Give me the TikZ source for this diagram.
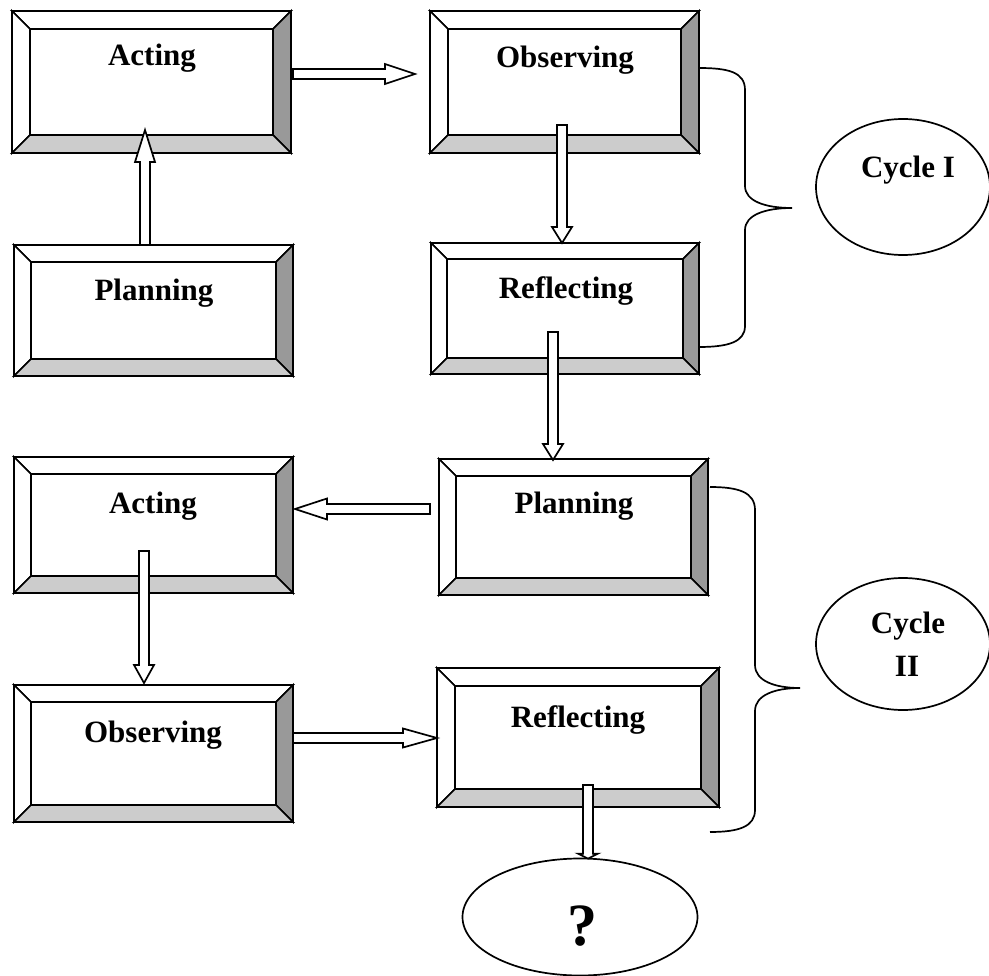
\documentclass[tikz,border=0pt]{standalone}
\usepackage{fontspec}
\setmainfont{Liberation Serif}
\usetikzlibrary{calc,shapes.geometric}
\definecolor{darkface}{HTML}{999999}
\definecolor{lightface}{HTML}{CCCCCC}
\tikzset{
  boxcore/.style={rectangle, inner sep=0pt, outer sep=0pt},
  face/.style={draw=black, line width=1.7pt, line join=miter},
  lbl/.style={font=\fontsize{31}{31}\selectfont\bfseries, anchor=base, inner sep=0pt},
  qlbl/.style={font=\fontsize{60}{60}\selectfont\bfseries, anchor=base, inner sep=0pt},
  barrow/.style={draw=black, fill=white, line width=1.7pt, line join=miter},
  bracepath/.style={draw=black, line width=1.7pt},
  oval/.style={ellipse, draw=black, line width=1.7pt, inner sep=0pt},
}
\newcommand\bevbox[6]{%
  \node[boxcore, minimum width={#4-#2}, minimum height={#5-#3}] (#1) at ({(#2+#4)/2},{(#3+#5)/2}) {};
  \coordinate (#1-a) at ($(#1.north west)+(#6,#6)$);
  \coordinate (#1-b) at ($(#1.north east)+(-#6,#6)$);
  \coordinate (#1-c) at ($(#1.south east)+(-#6,-#6)$);
  \coordinate (#1-d) at ($(#1.south west)+(#6,-#6)$);
  \filldraw[face, fill=white] (#1.north west) -- (#1.north east) -- (#1-b) -- (#1-a) -- cycle;
  \filldraw[face, fill=white] (#1.north west) -- (#1-a) -- (#1-d) -- (#1.south west) -- cycle;
  \filldraw[face, fill=darkface] (#1.north east) -- (#1.south east) -- (#1-c) -- (#1-b) -- cycle;
  \filldraw[face, fill=lightface] (#1.south west) -- (#1-d) -- (#1-c) -- (#1.south east) -- cycle;
  \filldraw[face, fill=white] (#1-a) rectangle (#1-c);
}
\newcommand\blockarrow[5]{%
  \coordinate (#5) at ($(#2)!#3!(#1)$);
  \draw[barrow] ($(#1)!5pt!90:(#2)$) -- ($(#5)!5pt!90:(#2)$) -- ($(#5)!#4!90:(#2)$) -- (#2)
    -- ($(#5)!#4!-90:(#2)$) -- ($(#5)!5pt!-90:(#2)$) -- ($(#1)!5pt!-90:(#2)$) -- cycle;
}
\begin{document}
\begin{tikzpicture}[x=1pt,y=-1pt]
\useasboundingbox (0,0) rectangle (989,976);

% boxes
\bevbox{A1}{12}{11}{291}{153}{18}
\bevbox{O1}{430}{11}{699}{153}{18}
\bevbox{P1}{14}{245}{293}{376}{17}
\bevbox{R1}{431}{243}{699}{374}{16}
\bevbox{P2}{439}{459}{708}{595}{17}
\bevbox{A2}{14}{457}{293}{593}{17}
\bevbox{O2}{14}{685}{293}{822}{17}
\bevbox{R2}{437}{668}{719}{807}{18}

% labels
\node[lbl] (A1t) at (152,66) {Acting};
\node[lbl] (O1t) at (565,68) {Observing};
\node[lbl] (P1t) at (154,301) {Planning};
\node[lbl] (R1t) at (566,299) {Reflecting};
\node[lbl] (P2t) at (574,514) {Planning};
\node[lbl] (A2t) at (153,513) {Acting};
\node[lbl] (O2t) at (153,742) {Observing};
\node[lbl] (R2t) at (578,727) {Reflecting};

% ovals
\node[oval, minimum width=174, minimum height=136] (C1) at (903,187) {};
\node[lbl] (C1t) at (908,178) {Cycle I};
\node[oval, minimum width=174, minimum height=132] (C2) at (903,644) {};
\node[lbl] (C2t) at (908,633) {Cycle};
\node[lbl] (C2u) at (907,676) {II};
\node[oval, minimum width=235, minimum height=117] (Q) at (580,917) {};
\node[qlbl] (Qt) at (582,945) {?};

% arrow end points
\coordinate (s1) at ($(A1.east)+(2,-8)$);
\coordinate (e1) at ($(O1.west)+(-15,-8)$);
\coordinate (s2) at ($(P1.north)+(-8.5,0)$);
\coordinate (e2) at ($(A1.south)+(-6.5,-23)$);
\coordinate (s3) at ($(O1.south)+(-2.5,-28)$);
\coordinate (e3) at ($(R1.north)+(-3,0)$);
\coordinate (s4) at ($(R1.south)+(-12,-42)$);
\coordinate (e4) at ($(P2.north)+(-20.5,1)$);
\coordinate (s5) at ($(P2.west)+(-9,-18)$);
\coordinate (e5) at ($(A2.east)+(2,-16)$);
\coordinate (s6) at ($(A2.south)+(-9.5,-42)$);
\coordinate (e6) at ($(O2.north)+(-9.5,-2)$);
\coordinate (s7) at ($(O2.east)+(0,-15.5)$);
\coordinate (e7) at ($(R2.west)+(0,0.5)$);
\coordinate (s8) at ($(R2.south)+(10,-22)$);
\coordinate (e8) at ($(Q.north)+(8,1)$);

\blockarrow{s1}{e1}{30pt}{10pt}{h1}
\blockarrow{s2}{e2}{32pt}{10pt}{h2}
\blockarrow{s3}{e3}{16pt}{10pt}{h3}
\blockarrow{s4}{e4}{16pt}{10pt}{h4}
\blockarrow{s5}{e5}{32pt}{10.5pt}{h5}
\blockarrow{s6}{e6}{18pt}{10pt}{h6}
\blockarrow{s7}{e7}{34pt}{9.5pt}{h7}
\blockarrow{s8}{e8}{5pt}{10pt}{h8}

% braces
\coordinate (b1s) at ($(O1.north east)+(0,57)$);
\coordinate (b1e) at ($(R1.south east)+(0,-27)$);
\draw[bracepath] (b1s) .. controls (728,68) and (745,72) .. (745,90) -- (745,186)
  .. controls (745,201) and (765,208) .. (792,208)
  .. controls (765,208) and (745,215) .. (745,230) -- (745,326)
  .. controls (745,342) and (728,347) .. (b1e);
\coordinate (b2s) at ($(P2.north east)+(2,28)$);
\coordinate (b2e) at ($(R2.south east)+(-9,25)$);
\draw[bracepath] (b2s) .. controls (738,487) and (755,492) .. (755,510) -- (755,665)
  .. controls (755,681) and (775,688) .. (800,688)
  .. controls (775,688) and (755,695) .. (755,711) -- (755,810)
  .. controls (755,827) and (738,832) .. (b2e);
\end{tikzpicture}
\end{document}
